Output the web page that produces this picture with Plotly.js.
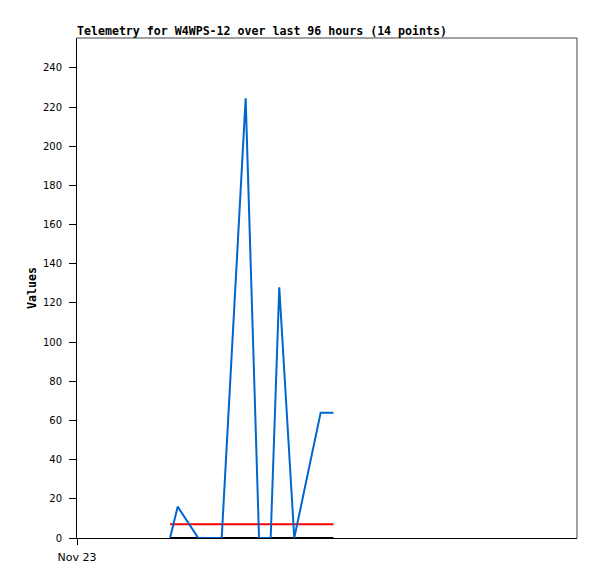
<!DOCTYPE html>
<html>
<head>
<meta charset="utf-8">
<script src="https://cdn.plot.ly/plotly-3.0.1.min.js"></script>
<style>html,body{margin:0;padding:0;background:#fff;}#chart{width:597px;height:579px;}</style>
</head>
<body>
<div id="chart"></div>
<script>
// Telemetry values
const blueTimes = ['2023-11-23 17:52','2023-11-23 19:20','2023-11-23 23:17','2023-11-24 03:47','2023-11-24 08:23','2023-11-24 10:57','2023-11-24 13:11','2023-11-24 14:50','2023-11-24 17:43','2023-11-24 22:47','2023-11-25 01:15'];
const blueValues = [0, 16, 0, 0, 224.5, 0, 0, 128, 0, 64, 64];
const redTimes = ['2023-11-23 17:52','2023-11-25 01:15'];
const redValues = [7, 7];
const blackTimes = ['2023-11-23 17:52','2023-11-25 01:15'];
const blackValues = [0, 0];
const xTickVals = ['2023-11-23 00:00'];
const xTickText = ['Nov 23'];
const yTickVals = [0,20,40,60,80,100,120,140,160,180,200,220,240];

const traces = [
  {x: blackTimes, y: blackValues, type: 'scatter', mode: 'lines', line: {color: '#000000', width: 2}, cliponaxis: false, hoverinfo: 'skip'},
  {x: redTimes, y: redValues, type: 'scatter', mode: 'lines', line: {color: '#ff0000', width: 2}, hoverinfo: 'skip'},
  {x: blueTimes, y: blueValues, type: 'scatter', mode: 'lines', line: {color: '#0066cc', width: 2}, cliponaxis: false, hoverinfo: 'skip'}
];

const layout = {
  width: 597, height: 579,
  margin: {l: 77, r: 20, t: 38, b: 41, pad: 0},
  paper_bgcolor: '#ffffff', plot_bgcolor: '#ffffff',
  showlegend: false,
  font: {family: 'DejaVu Sans Mono, monospace', size: 11, color: '#000'},
  title: {text: '<b>Telemetry for W4WPS-12 over last 96 hours (14 points)</b>', x: 0, xanchor: 'left', xref: 'paper', y: 1, yref: 'container', yanchor: 'top', pad: {t: 27}, font: {family: 'DejaVu Sans Mono, monospace', size: 11.6, color: '#000'}},
  xaxis: {
    type: 'date', range: ['2023-11-23 00:00', '2023-11-27 00:00'],
    tickmode: 'array', tickvals: xTickVals, ticktext: xTickText,
    ticks: 'outside', ticklen: 6, tickwidth: 1, tickcolor: '#000',
    ticklabelstandoff: 3,
    showline: true, linecolor: '#000', linewidth: 1, showgrid: false, zeroline: false,
    tickfont: {family: 'DejaVu Sans, sans-serif', size: 11, color: '#000'},
    fixedrange: true
  },
  yaxis: {
    range: [0, 255.3],
    tickmode: 'array', tickvals: yTickVals,
    ticks: 'outside', ticklen: 7, tickwidth: 1, tickcolor: '#000',
    ticklabelstandoff: 5,
    showline: true, linecolor: '#000', linewidth: 1, showgrid: false, zeroline: false,
    tickfont: {family: 'DejaVu Sans, sans-serif', size: 10, color: '#000'},
    title: {text: '<b>Values</b>', font: {family: 'DejaVu Sans Mono, monospace', size: 11.6, color: '#000'}, standoff: 3},
    fixedrange: true
  },
  shapes: [
    {type: 'line', xref: 'paper', yref: 'paper', x0: 0, x1: 1, y0: 1, y1: 1, line: {color: '#444', width: 1}, layer: 'below'},
    {type: 'line', xref: 'paper', yref: 'paper', x0: 1, x1: 1, y0: 0, y1: 1, line: {color: '#444', width: 1}, layer: 'below'}
  ]
};

Plotly.newPlot('chart', traces, layout, {displayModeBar: false, staticPlot: true});
</script>
</body>
</html>
